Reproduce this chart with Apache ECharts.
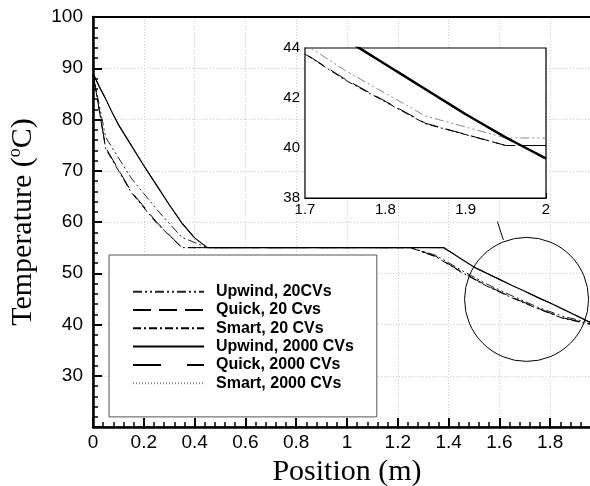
<!DOCTYPE html>
<html>
<head>
<meta charset="utf-8">
<script src="https://cdn.jsdelivr.net/npm/echarts@6/dist/echarts.min.js"></script>
<style>html,body{margin:0;padding:0;background:#fff}#c{width:590px;height:486px}</style>
</head>
<body>
<div id="c"></div>
<script>
// ---- data ----
const seriesNames = ['Upwind, 20CVs', 'Quick, 20 Cvs', 'Smart, 20 CVs', 'Upwind, 2000 CVs', 'Quick, 2000 CVs', 'Smart, 2000 CVs'];

// 20 control volumes (cell centres + boundaries)
const pos20 = [0, 0.05, 0.15, 0.25, 0.35, 0.45, 0.55, 0.65, 0.75, 0.85, 0.95, 1.05, 1.15, 1.25, 1.35, 1.45, 1.55, 1.65, 1.75, 1.85, 1.95, 2.0];
const upwind20 = [89, 76.5, 68.6, 62.5, 57.0, 55, 55, 55, 55, 55, 55, 55, 55, 55, 53.5, 50.6, 47.9, 45.6, 43.4, 41.6, 40.4, 40.4];
const quick20  = [89, 74.5, 66.0, 60.0, 55.0, 55, 55, 55, 55, 55, 55, 55, 55, 55, 53.3, 50.3, 47.6, 45.3, 43.2, 41.3, 40.2, 40.2];
const smart20  = [89, 74.3, 65.8, 59.8, 55.0, 55, 55, 55, 55, 55, 55, 55, 55, 55, 53.2, 50.2, 47.5, 45.2, 43.1, 41.2, 40.1, 40.1];

// 2000 control volumes (all three schemes coincide)
const pos2000 = [0, 0.025, 0.05, 0.075, 0.1, 0.15, 0.2, 0.25, 0.3, 0.35, 0.4, 0.45, 1.38, 1.4, 1.45, 1.5, 1.55, 1.6, 1.65, 1.7, 1.75, 1.8, 1.85, 1.9, 1.95, 2.0];
const upwind2000 = [89, 86.4, 84.0, 81.4, 79.0, 75.0, 71.0, 67.2, 63.4, 59.8, 56.9, 55, 55, 54.4, 52.8, 51.2, 50.0, 48.8, 47.6, 46.5, 45.3, 44.2, 43.0, 41.8, 40.6, 39.5];
const quick2000  = upwind2000.slice();
const smart2000  = upwind2000.slice();

// inset (zoom of 1.7 - 2.0) values
const insetPos20 = [1.65, 1.75, 1.85, 1.95, 2.0];
const insetUpwind20 = [45.2, 43.1, 41.28, 40.4, 40.4];
const insetQuick20  = [44.8, 42.75, 40.99, 40.1, 40.1];
const insetSmart20  = [44.8, 42.72, 40.97, 40.1, 40.1];
const insetPos2000 = [1.7, 1.75, 1.8, 1.85, 1.9, 1.95, 2.0];
const insetUpwind2000 = [45.4, 44.35, 43.35, 42.35, 41.35, 40.42, 39.58];
const insetQuick2000 = insetUpwind2000.slice();
const insetSmart2000 = insetUpwind2000.slice();

const circleCenter = [1.707, 44.9];

// ---- chart ----
const zip = (xs, ys) => xs.map((x, i) => [x, ys[i]]);
const styles = [
  {color: '#222', width: 1, type: [9, 3, 2, 3, 2, 3]},
  {color: '#000', width: 1, type: [18, 8]},
  {color: '#000', width: 1, type: [8, 3, 2, 3]},
  {color: '#000', width: 1.2, type: 'solid'},
  {color: '#000', width: 1, type: [28, 26]},
  {color: '#888', width: 1, type: [1, 2]}
];
const mainData = [zip(pos20, upwind20), zip(pos20, quick20), zip(pos20, smart20), zip(pos2000, upwind2000), zip(pos2000, quick2000), zip(pos2000, smart2000)];
const insetStyles = [
  {color: '#888', width: 1, type: [9, 3, 2, 3, 2, 3]},
  {color: '#000', width: 1, type: [18, 8]},
  {color: '#000', width: 1, type: [8, 3, 2, 3]},
  {color: '#000', width: 2.5, type: 'solid'},
  {color: '#000', width: 2, type: [28, 26]},
  {color: '#888', width: 1, type: [1, 2]}
];
const insetData = [zip(insetPos20, insetUpwind20), zip(insetPos20, insetQuick20), zip(insetPos20, insetSmart20), zip(insetPos2000, insetUpwind2000), zip(insetPos2000, insetQuick2000), zip(insetPos2000, insetSmart2000)];

const series = [];
seriesNames.forEach((n, i) => {
  series.push({name: n, type: 'line', xAxisIndex: 0, yAxisIndex: 0, data: mainData[i], symbol: 'none', showSymbol: false,
    lineStyle: {color: styles[i].color, width: styles[i].width, type: styles[i].type}, itemStyle: {color: styles[i].color},
    z: i === 3 ? 4 : 3});
});
seriesNames.forEach((n, i) => {
  series.push({name: n, type: 'line', xAxisIndex: 1, yAxisIndex: 1, data: insetData[i], symbol: 'none', showSymbol: false,
    lineStyle: {color: insetStyles[i].color, width: insetStyles[i].width, type: insetStyles[i].type},
    z: i === 3 ? 6 : 5});
});

const SANS = 'Liberation Sans, Arial, sans-serif';
const SERIF = 'Liberation Serif, Times New Roman, serif';

const chart = echarts.init(document.getElementById('c'), null, {renderer: 'canvas'});
chart.setOption({
  animation: false,
  backgroundColor: '#fff',
  grid: [
    {left: 93, top: 17, right: -11, bottom: 59, outerBoundsMode: 'none', containLabel: false,
      show: true, borderColor: '#000', borderWidth: 1, backgroundColor: 'transparent'},
    {left: 305, top: 48, width: 241, height: 150, outerBoundsMode: 'none', containLabel: false,
      show: true, borderColor: '#000', borderWidth: 1.2, backgroundColor: '#fff', z: 4}
  ],
  legend: {
    data: seriesNames, orient: 'vertical', left: 109, top: 255,
    padding: [28.7, 23, 25.7, 23], itemWidth: 71, itemHeight: 10, itemGap: 2.3,
    borderColor: '#555', borderWidth: 1, backgroundColor: '#fff',
    itemStyle: {opacity: 0},
    textStyle: {fontFamily: SANS, fontWeight: 'bold', fontSize: 16, color: '#000', lineHeight: 16, padding: [0, 0, 0, 7]},
    selectedMode: false
  },
  xAxis: [
    {type: 'value', gridIndex: 0, min: 0, max: 2, interval: 0.2,
      name: 'Position (m)', nameLocation: 'middle', nameGap: 24,
      nameTextStyle: {fontFamily: SERIF, fontSize: 30, color: '#000', verticalAlign: 'top'},
      axisLine: {lineStyle: {color: '#000', width: 2.5}},
      axisTick: {inside: true, length: 9, lineStyle: {color: '#000', width: 2}},
      minorTick: {show: true, splitNumber: 5, length: 5, lineStyle: {color: '#000', width: 1.5}},
      axisLabel: {fontFamily: SANS, fontSize: 19, color: '#000', margin: 6, showMaxLabel: false},
      splitLine: {show: true, lineStyle: {color: '#ccc', type: [1, 2], width: 1}}
    },
    {type: 'value', gridIndex: 1, min: 1.7, max: 2, interval: 0.1,
      axisLine: {lineStyle: {color: '#000', width: 1.2}},
      axisTick: {inside: true, length: 5, lineStyle: {color: '#000'}},
      minorTick: {show: true, splitNumber: 5, length: 3, lineStyle: {color: '#000'}},
      axisLabel: {fontFamily: SANS, fontSize: 15, color: '#000', margin: 4},
      splitLine: {show: true, lineStyle: {color: '#e4e4e4', width: 1}}
    },
    {type: 'value', gridIndex: 0, position: 'top', min: 0, max: 2,
      axisLine: {show: true, lineStyle: {color: '#000', width: 2}},
      axisTick: {show: false}, axisLabel: {show: false}, splitLine: {show: false}
    }
  ],
  yAxis: [
    {type: 'value', gridIndex: 0, min: 20, max: 100, interval: 10,
      name: 'Temperature ({s|o}C)', nameLocation: 'middle', nameGap: 41, nameRotate: 90,
      nameTextStyle: {fontFamily: SERIF, fontSize: 30, color: '#000', lineHeight: 34,
        rich: {s: {fontFamily: SERIF, fontSize: 18, color: '#000', verticalAlign: 'top', lineHeight: 34}}},
      axisLine: {lineStyle: {color: '#000', width: 2.5}},
      axisTick: {inside: true, length: 9, lineStyle: {color: '#000', width: 2}},
      minorTick: {show: true, splitNumber: 5, length: 5, lineStyle: {color: '#000', width: 1.5}},
      axisLabel: {fontFamily: SANS, fontSize: 19, color: '#000', margin: 10, showMinLabel: false},
      splitLine: {show: true, lineStyle: {color: '#ccc', type: [1, 2], width: 1}}
    },
    {type: 'value', gridIndex: 1, min: 38, max: 44, interval: 2,
      axisLine: {lineStyle: {color: '#000', width: 1.2}},
      axisTick: {inside: true, length: 5, lineStyle: {color: '#000'}},
      minorTick: {show: true, splitNumber: 4, length: 3, lineStyle: {color: '#000'}},
      axisLabel: {fontFamily: SANS, fontSize: 15, color: '#000', margin: 5},
      splitLine: {show: true, lineStyle: {color: '#e4e4e4', width: 1}}
    }
  ],
  series: series
});

// zoom circle + connector (annotation)
const cc = chart.convertToPixel({gridIndex: 0}, circleCenter);
const R = 62;
chart.setOption({
  graphic: [
    {type: 'circle', shape: {cx: cc[0], cy: cc[1], r: R}, style: {fill: 'none', stroke: '#000', lineWidth: 1}, z: 10},
    {type: 'line', shape: {x1: cc[0] - 23.2, y1: cc[1] - 59.5, x2: cc[0] - 29.2, y2: cc[1] - 77.8}, style: {stroke: '#000', lineWidth: 1}, z: 10}
  ]
});
</script>
</body>
</html>
